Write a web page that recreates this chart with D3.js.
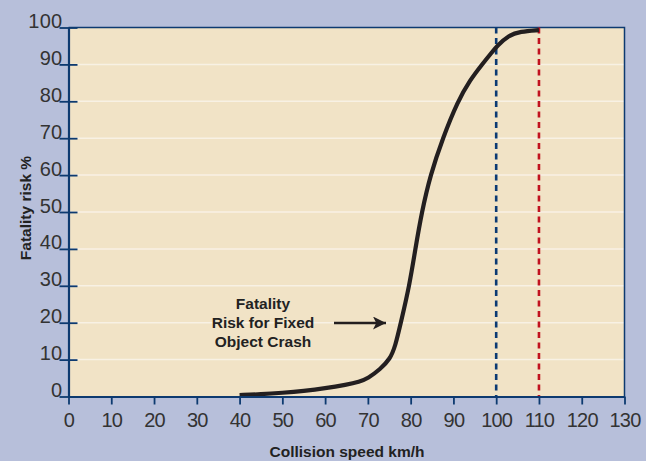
<!DOCTYPE html>
<html>
<head>
<meta charset="utf-8">
<script src="https://cdn.jsdelivr.net/npm/d3@7"></script>
<style>
html,body{margin:0;padding:0;background:#b7bfda;}
svg{display:block;}
</style>
</head>
<body>
<svg id="chart" width="646" height="461"></svg>
<script>
// Data
const speeds = [40, 45, 50, 55, 60, 65, 68, 70, 72.9, 75.2, 76.4, 77.7, 79.7, 81.1, 82.6, 84.6, 87.5, 91, 93.9, 96.7, 99, 100.2, 102.9, 105.6, 110];
const risk   = [0.4, 0.6, 1.0, 1.5, 2.2, 3.2, 4.0, 4.9, 7.4, 10.2, 13.6, 20, 30, 40, 50, 60, 70, 80, 85.8, 90, 93.3, 95.0, 97.9, 98.9, 99.3];
const xTicks = [0, 10, 20, 30, 40, 50, 60, 70, 80, 90, 100, 110, 120, 130];
const yTicks = [0, 10, 20, 30, 40, 50, 60, 70, 80, 90, 100];
const refSpeeds = [100, 110];
const refColors = ["#0b3a73", "#c1121f"];
const annotation = ["Fatality", "Risk for Fixed", "Object Crash"];
const xTitle = "Collision speed km/h";
const yTitle = "Fatality risk %";

const svg = d3.select("#chart");
const L = 68.5, R = 624.5, T = 27.5, B = 396.5;
const x = d3.scaleLinear().domain([0, 130]).range([L, R]);
const y = d3.scaleLinear().domain([0, 100]).range([B, T]);
const navy = "#0d3a70";

// plot background
svg.append("rect").attr("x", L).attr("y", T).attr("width", R - L).attr("height", B - T)
  .attr("fill", "#f1e3c6");

// gridlines
svg.append("g").selectAll("line").data(yTicks.filter(d => d > 0 && d < 100)).join("line")
  .attr("x1", L).attr("x2", R).attr("y1", d => y(d)).attr("y2", d => y(d))
  .attr("stroke", "#f8f1e4").attr("stroke-width", 1.5);

// frame top/right
svg.append("path").attr("d", `M${L},${T}H${R}V${B}`).attr("fill", "none")
  .attr("stroke", navy).attr("stroke-width", 1.5);

// Reference dashed lines
svg.append("g").selectAll("line").data(refSpeeds).join("line")
  .attr("x1", d => x(d)).attr("x2", d => x(d)).attr("y1", T).attr("y2", B)
  .attr("stroke", (d, i) => refColors[i]).attr("stroke-width", 2.6)
  .attr("stroke-dasharray", "6,4.5");

// Curve
const pts = speeds.map((s, i) => [s, risk[i]]);
svg.append("path").datum(pts)
  .attr("d", d3.line().x(d => x(d[0])).y(d => y(d[1])).curve(d3.curveBasis))
  .attr("fill", "none").attr("stroke", "#231f20").attr("stroke-width", 4.2)
  .attr("stroke-linecap", "butt");

// X axis
const xAxis = svg.append("g").attr("transform", `translate(0,${B})`)
  .call(d3.axisBottom(x).tickValues(xTicks).tickSize(8).tickPadding(8).tickSizeOuter(0));
xAxis.select(".domain").attr("stroke", navy).attr("stroke-width", 2.2);
xAxis.selectAll(".tick line").attr("stroke", navy).attr("stroke-width", 1.8);
xAxis.selectAll(".tick text").attr("font-family", "Liberation Sans, Arial, sans-serif")
  .attr("font-size", 20).attr("fill", "#333").attr("dy", "0.71em").attr("y", 16.5)
  .attr("letter-spacing", -0.8);

// Y axis
const yAxis = svg.append("g").attr("transform", `translate(${L},0)`)
  .call(d3.axisLeft(y).tickValues(yTicks).tickSize(0).tickSizeOuter(0));
yAxis.select(".domain").attr("stroke", navy).attr("stroke-width", 2.2);
yAxis.selectAll(".tick line").attr("x1", -9).attr("x2", 9).attr("stroke", navy).attr("stroke-width", 1.8);
yAxis.selectAll(".tick text").attr("font-family", "Liberation Sans, Arial, sans-serif")
  .attr("font-size", 20).attr("fill", "#333").attr("x", -6).attr("dy", "0em")
  .attr("letter-spacing", 0.3);

// Axis titles
svg.append("text").attr("x", 347).attr("y", 457).attr("text-anchor", "middle")
  .attr("font-family", "Liberation Sans, Arial, sans-serif").attr("font-weight", "bold")
  .attr("font-size", 15.5).attr("fill", "#222").text(xTitle);
svg.append("text").attr("transform", "translate(31,208) rotate(-90)").attr("text-anchor", "middle")
  .attr("font-family", "Liberation Sans, Arial, sans-serif").attr("font-weight", "bold")
  .attr("font-size", 15.5).attr("fill", "#222").text(yTitle);

// Annotation
svg.append("g").selectAll("text").data(annotation).join("text")
  .attr("x", 263).attr("y", (d, i) => 309 + i * 19).attr("text-anchor", "middle")
  .attr("font-family", "Liberation Sans, Arial, sans-serif").attr("font-weight", "bold")
  .attr("font-size", 15.5).attr("fill", "#222").text(d => d);

// Arrow
svg.append("defs").append("marker").attr("id", "ah").attr("viewBox", "0 0 10 10")
  .attr("refX", 10).attr("refY", 5).attr("markerWidth", 7).attr("markerHeight", 5)
  .attr("markerUnits", "strokeWidth").attr("orient", "auto")
  .append("path").attr("d", "M0,0L10,5L0,10L2.5,5Z").attr("fill", "#231f20");
svg.append("line").attr("x1", 334).attr("x2", 386).attr("y1", 323).attr("y2", 323)
  .attr("stroke", "#231f20").attr("stroke-width", 2.6).attr("marker-end", "url(#ah)");
</script>
</body>
</html>
